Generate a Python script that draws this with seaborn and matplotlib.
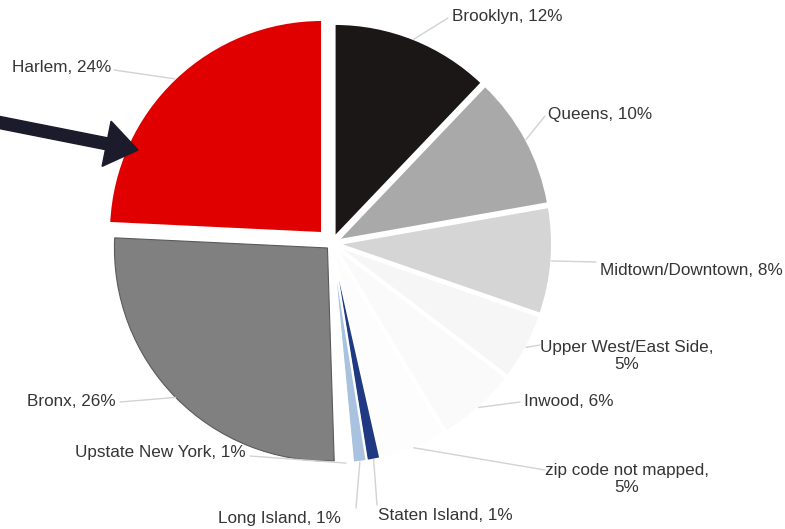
import numpy as np
import matplotlib
matplotlib.use("Agg")
import matplotlib.pyplot as plt
import seaborn as sns
from matplotlib.patches import FancyArrow

# ---- data (clockwise from 12 o'clock) ----
regions = ["Brooklyn", "Queens", "Midtown/Downtown", "Upper West/East Side",
           "Inwood", "zip code not mapped", "Staten Island", "Long Island",
           "Upstate New York", "Bronx", "Harlem"]
shares = [12, 10, 8, 5, 6, 5, 1, 1, 1, 26, 24]
label_texts = ["Brooklyn, 12%", "Queens, 10%", "Midtown/Downtown, 8%",
               "Upper West/East Side,\n5%", "Inwood, 6%", "zip code not mapped,\n5%",
               "Staten Island, 1%", "Long Island, 1%", "Upstate New York, 1%",
               "Bronx, 26%", "Harlem, 24%"]
colors = ["#1b1717", "#a9a9a9", "#d5d5d5", "#f6f6f6", "#fafafa", "#fdfdfd",
          "#1f3a82", "#a8c2df", "#ffffff", "#808080", "#e10000"]
explode = [0.033, 0.033, 0.033, 0.033, 0.033, 0.033, 0.033, 0.033, 0.033, 0.03, 0.068]

# label anchor positions in pixels (x, y from top-left), alignment
label_px = [(452, 16), (548, 114), (600, 270), (627, 356), (524, 401),
            (627, 479), (378, 516), (341, 518), (246, 452), (116, 401), (111, 67)]
label_ha = ["left", "left", "left", "center", "left", "center",
            "left", "right", "right", "right", "right"]
leader_end_px = [(448, 18), (545, 116), (596, 262), (540, 345), (520, 402),
                 (545, 470), (377, 505), (356, 508), (250, 456), (120, 402), (114, 70)]

W, H = 785, 529
CX, CY, R = 332.0, 243.5, 213.0

def px2d(px, py):
    return ((px - CX) / R, (CY - py) / R)

sns.set_theme(style="white")
plt.rcParams["font.family"] = ["Liberation Sans", "DejaVu Sans"]

fig = plt.figure(figsize=(W / 100, H / 100), dpi=100)
ax = fig.add_axes([0, 0, 1, 1])

wedges, _ = ax.pie(shares, colors=colors, explode=explode, startangle=90,
                   counterclock=False, radius=1.0,
                   wedgeprops=dict(edgecolor="white", linewidth=1.4))
wedges[regions.index("Bronx")].set_edgecolor("#5a5a5a")
wedges[regions.index("Bronx")].set_linewidth(0.8)

ax.set_xlim(px2d(0, 0)[0], px2d(W, 0)[0])
ax.set_ylim(px2d(0, H)[1], px2d(0, 0)[1])
ax.set_aspect("equal")
ax.axis("off")

for w, txt, (lx, ly), ha, (ex, ey) in zip(wedges, label_texts, label_px, label_ha, leader_end_px):
    thm = np.deg2rad(0.5 * (w.theta1 + w.theta2))
    cx, cy = w.center
    sx, sy = cx + w.r * np.cos(thm), cy + w.r * np.sin(thm)
    exd, eyd = px2d(ex, ey)
    ax.plot([sx, exd], [sy, eyd], color="#d2d2d2", lw=1.0, zorder=1)
    tx, ty = px2d(lx, ly)
    ax.text(tx, ty, txt, ha=ha, va="center", fontsize=12.3, color="#353535",
            linespacing=1.2, multialignment="center")

# highlight arrow pointing at Harlem
tx0, ty0 = px2d(-8, 121)
tx1, ty1 = px2d(138, 150)
arrow = FancyArrow(tx0, ty0, tx1 - tx0, ty1 - ty0, width=12 / R,
                   head_width=46 / R, head_length=32 / R,
                   length_includes_head=True, color="#1c1b2b", zorder=5)
ax.add_patch(arrow)

fig.savefig("out.png", dpi=100, facecolor="white")
